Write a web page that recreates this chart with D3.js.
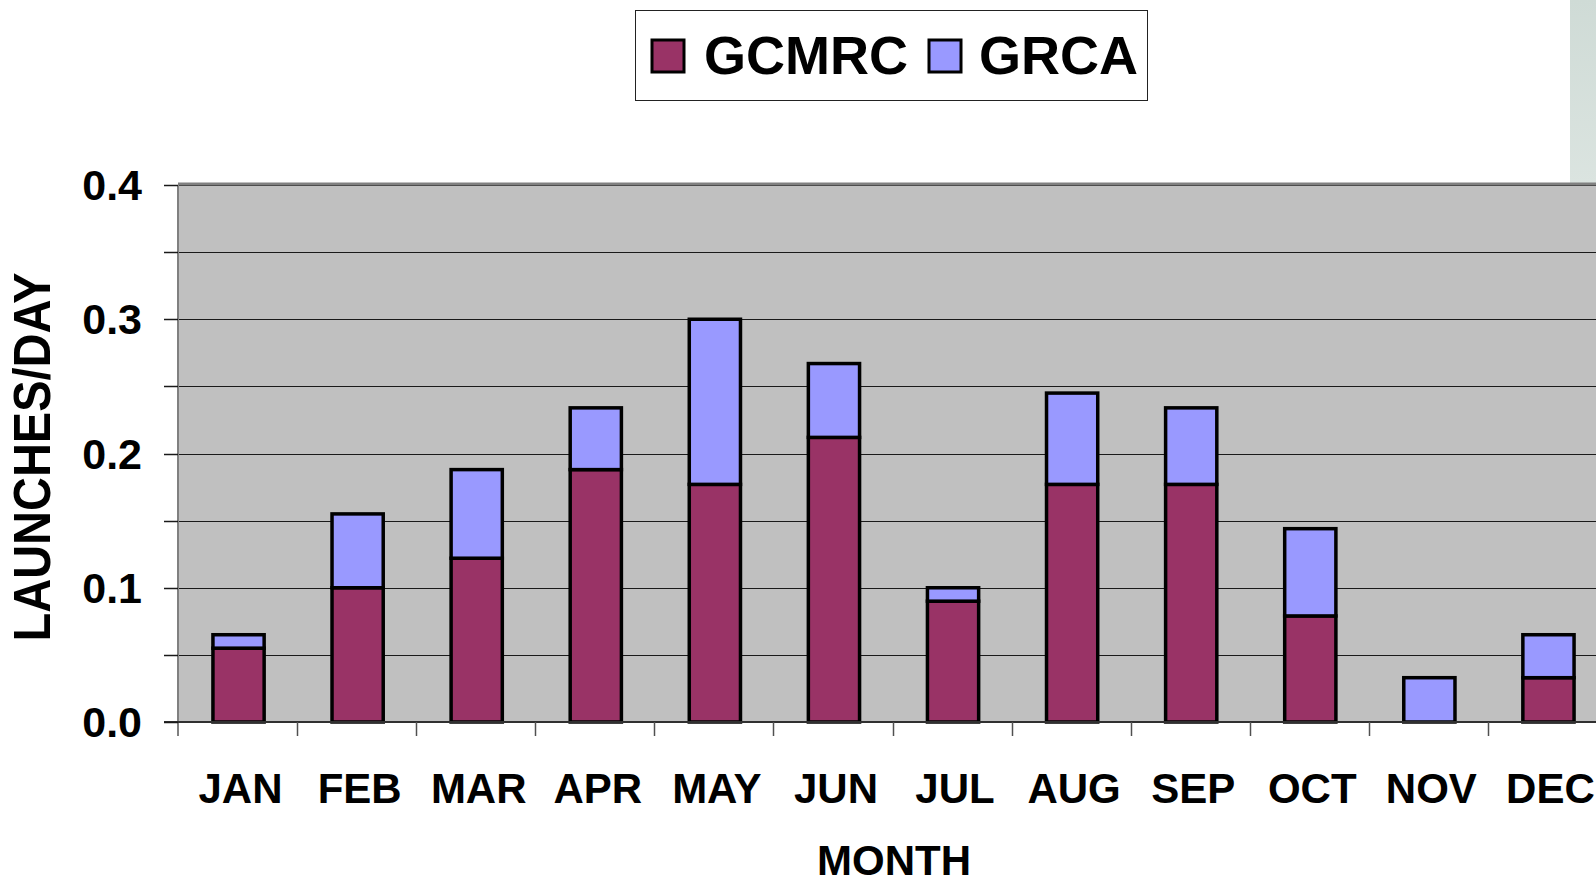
<!DOCTYPE html>
<html>
<head>
<meta charset="utf-8">
<script src="https://cdn.jsdelivr.net/npm/d3@7"></script>
<style>
  html, body { margin: 0; padding: 0; background: #ffffff; }
  svg { display: block; font-family: "Liberation Sans", Arial, sans-serif; font-weight: 700; }
</style>
</head>
<body>
<div id="chart"></div>
<script>

// data (launches per day)
const months = ["JAN", "FEB", "MAR", "APR", "MAY", "JUN", "JUL", "AUG", "SEP", "OCT", "NOV", "DEC"];
const gcmrc = [0.055, 0.100, 0.122, 0.188, 0.177, 0.212, 0.090, 0.177, 0.177, 0.079, 0.000, 0.033];
const grca  = [0.010, 0.055, 0.066, 0.046, 0.123, 0.055, 0.010, 0.068, 0.057, 0.065, 0.033, 0.032];
const yTicks = [0.0, 0.1, 0.2, 0.3, 0.4];
const yGrid = [0.05, 0.1, 0.15, 0.2, 0.25, 0.3, 0.35, 0.4];

const seriesInfo = [
  { id: "gcmrc", label: "GCMRC", color: "#993366" },
  { id: "grca", label: "GRCA", color: "#9999ff" }
];

const width = 1596;
const height = 885;
const plot = { left: 178, right: 1607, top: 185, bottom: 722 };

const rows = months.map((m, i) => ({ month: m, gcmrc: gcmrc[i], grca: grca[i] }));

const svg = d3.select("#chart")
  .append("svg")
    .attr("width", width)
    .attr("height", height);

// faint slide background strip on the right
const grad = svg.append("defs")
  .append("linearGradient")
    .attr("id", "strip")
    .attr("x1", 0).attr("x2", 0).attr("y1", 0).attr("y2", 1);
grad.append("stop").attr("offset", "0%").attr("stop-color", "#cfdbd6");
grad.append("stop").attr("offset", "100%").attr("stop-color", "#dbe4e0");
svg.append("rect")
    .attr("x", 1570)
    .attr("y", 0)
    .attr("width", 26)
    .attr("height", plot.top)
    .attr("fill", "url(#strip)");

const xScale = d3.scaleBand()
  .domain(months)
  .range([plot.left, plot.right])
  .padding(0);

const yScale = d3.scaleLinear()
  .domain([0, 0.4])
  .range([plot.bottom, plot.top]);

// plot area
svg.append("rect")
    .attr("x", plot.left)
    .attr("y", plot.top)
    .attr("width", plot.right - plot.left)
    .attr("height", plot.bottom - plot.top)
    .attr("fill", "#c0c0c0");

svg.append("g")
    .attr("class", "grid")
  .selectAll("line")
  .data(yGrid)
  .join("line")
    .attr("x1", plot.left)
    .attr("x2", plot.right)
    .attr("y1", d => Math.round(yScale(d)) + 0.5)
    .attr("y2", d => Math.round(yScale(d)) + 0.5)
    .attr("stroke", "#1a1a1a")
    .attr("stroke-width", 1);

// top and left border of the plot
svg.append("line")
    .attr("x1", plot.left)
    .attr("x2", plot.right)
    .attr("y1", plot.top - 1)
    .attr("y2", plot.top - 1)
    .attr("stroke", "#808080")
    .attr("stroke-width", 3);
svg.append("line")
    .attr("x1", plot.left)
    .attr("x2", plot.left)
    .attr("y1", plot.top)
    .attr("y2", plot.bottom + 14)
    .attr("stroke", "#808080")
    .attr("stroke-width", 2);

// stacked bars
const stacked = d3.stack().keys(seriesInfo.map(s => s.id))(rows);
const barWidth = xScale.bandwidth() * 0.43;

svg.append("g")
    .attr("class", "bars")
  .selectAll("g")
  .data(stacked)
  .join("g")
    .attr("fill", (d, i) => seriesInfo[i].color)
  .selectAll("rect")
  .data(d => d.filter(p => p[1] - p[0] > 0))
  .join("rect")
    .attr("x", d => xScale(d.data.month) + xScale.bandwidth() / 2 - barWidth / 2 + 1)
    .attr("y", d => yScale(d[1]))
    .attr("width", barWidth)
    .attr("height", d => yScale(d[0]) - yScale(d[1]))
    .attr("stroke", "#000000")
    .attr("stroke-width", 3.5);

// x axis line and ticks
svg.append("line")
    .attr("x1", plot.left - 14)
    .attr("x2", plot.right)
    .attr("y1", plot.bottom)
    .attr("y2", plot.bottom)
    .attr("stroke", "#303030")
    .attr("stroke-width", 2);

svg.append("g")
    .attr("class", "x-ticks")
  .selectAll("line")
  .data(months.slice(1))
  .join("line")
    .attr("x1", d => Math.round(xScale(d)) + 0.5)
    .attr("x2", d => Math.round(xScale(d)) + 0.5)
    .attr("y1", plot.bottom)
    .attr("y2", plot.bottom + 14)
    .attr("stroke", "#505050")
    .attr("stroke-width", 1.5);

svg.append("g")
    .attr("class", "x-labels")
  .selectAll("text")
  .data(months)
  .join("text")
    .attr("x", d => xScale(d) + xScale.bandwidth() / 2 + 3)
    .attr("y", 803)
    .attr("text-anchor", "middle")
    .style("font-size", "42px")
    .style("fill", "#000")
    .text(d => d);

// y ticks and labels
svg.append("g")
    .attr("class", "y-ticks")
  .selectAll("line")
  .data([0].concat(yGrid))
  .join("line")
    .attr("x1", plot.left - 14)
    .attr("x2", plot.left)
    .attr("y1", d => Math.round(yScale(d)) + 0.5)
    .attr("y2", d => Math.round(yScale(d)) + 0.5)
    .attr("stroke", "#1a1a1a")
    .attr("stroke-width", 1.5);

svg.append("g")
    .attr("class", "y-labels")
  .selectAll("text")
  .data(yTicks)
  .join("text")
    .attr("x", 142)
    .attr("y", d => yScale(d) + 15)
    .attr("text-anchor", "end")
    .style("font-size", "43px")
    .style("fill", "#000")
    .text(d => d3.format(".1f")(d));

// axis titles
svg.append("text")
    .attr("x", 894)
    .attr("y", 875)
    .attr("text-anchor", "middle")
    .style("font-size", "42px")
    .text("MONTH");

svg.append("text")
    .attr("transform", "translate(50, 457) rotate(-90) scale(1, 1.12)")
    .attr("text-anchor", "middle")
    .style("font-size", "47px")
    .text("LAUNCHES/DAY");

// legend
const legend = svg.append("g").attr("class", "legend");
legend.append("rect")
    .attr("x", 635.5)
    .attr("y", 10.5)
    .attr("width", 512)
    .attr("height", 90)
    .attr("fill", "#ffffff")
    .attr("stroke", "#222")
    .attr("stroke-width", 1);

const legendPos = [{ box: 652, text: 704 }, { box: 929, text: 979 }];
seriesInfo.forEach((s, i) => {
  legend.append("rect")
      .attr("x", legendPos[i].box)
      .attr("y", 40)
      .attr("width", 32)
      .attr("height", 32)
      .attr("fill", s.color)
      .attr("stroke", "#000")
      .attr("stroke-width", 3);
  legend.append("text")
      .attr("x", legendPos[i].text)
      .attr("y", 74)
      .style("font-size", "54px")
      .text(s.label);
});

</script>
</body>
</html>
